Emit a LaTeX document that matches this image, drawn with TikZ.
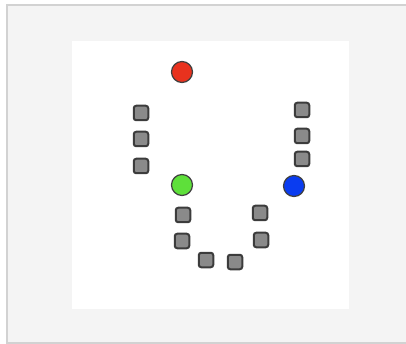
\documentclass[tikz,border=0pt]{standalone}
\usepackage{xcolor}
\usepackage{tikz}
\definecolor{framegray}{HTML}{D2D2D2}
\definecolor{panelgray}{HTML}{F4F4F4}
\definecolor{seatfill}{HTML}{8A8A8A}
\definecolor{seatline}{HTML}{3C3C3C}
\definecolor{redball}{HTML}{E8321E}
\definecolor{greenball}{HTML}{5EE03A}
\definecolor{blueball}{HTML}{0A3CF0}
\tikzset{
  seat/.style={draw=seatline,fill=seatfill,line width=2pt,rounded corners=2.5pt,
    minimum size=14.5pt,inner sep=0pt},
  ball/.style={circle,draw=black!75,line width=1.2pt,minimum width=21pt,
    minimum height=20pt,inner sep=0pt}
}
\begin{document}
\begin{tikzpicture}[x=1pt,y=-1pt]
  \useasboundingbox (0,0) rectangle (406,344);
  %% ── frame and panel ──
  \begin{scope}
    \clip (0,0) rectangle (406,344);
    \draw[framegray,line width=1.5pt,fill=panelgray] (7,5) rectangle (412,343);
  \end{scope}
  \fill[white] (72,41) rectangle (349,309);

  %% ── coloured balls ──
  \node[ball,fill=redball]   (red)   at (182,72)  {};
  \node[ball,fill=greenball] (green) at (182,185) {};
  \node[ball,fill=blueball]  (blue)  at (294,186) {};

  %% ── left column ──
  \foreach \y [count=\i] in {113,139,166}
    \node[seat] (left\i) at (141,\y) {};

  %% ── right column ──
  \foreach \y [count=\i] in {110,136,159}
    \node[seat] (right\i) at (302,\y) {};

  %% ── bottom curve ──
  \node[seat] (low1) at (183,215) {};
  \node[seat] (low2) at (182,241) {};
  \node[seat] (low3) at (206,260) {};
  \node[seat] (low4) at (235,262) {};
  \node[seat] (low5) at (261,240) {};
  \node[seat] (low6) at (260,213) {};
\end{tikzpicture}
\end{document}
